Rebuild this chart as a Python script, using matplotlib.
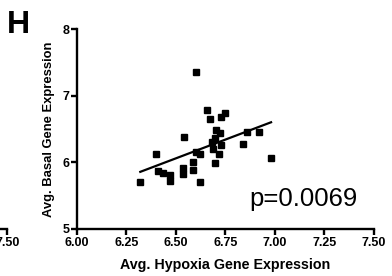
import numpy as np
import matplotlib
matplotlib.use('Agg')
import matplotlib.pyplot as plt

plt.rcParams['font.family'] = ['Liberation Sans', 'DejaVu Sans']

# avg. hypoxia vs avg. basal gene expression
hypoxia = [6.600, 6.659, 6.671, 6.750, 6.730, 6.540, 6.701, 6.722, 6.860, 6.920,
           6.400, 6.600, 6.620, 6.680, 6.696, 6.730, 6.688, 6.718, 6.700, 6.839,
           6.981, 6.320, 6.410, 6.435, 6.469, 6.469, 6.537, 6.537, 6.588, 6.588,
           6.621]
basal = [7.355, 6.785, 6.655, 6.745, 6.676, 6.376, 6.485, 6.440, 6.460, 6.450,
         6.120, 6.160, 6.120, 6.310, 6.360, 6.260, 6.195, 6.120, 5.995, 6.270,
         6.060, 5.700, 5.870, 5.840, 5.810, 5.720, 5.915, 5.830, 6.005, 5.885,
         5.700]
p_text = 'p=0.0069'
xticks = [6.00, 6.25, 6.50, 6.75, 7.00, 7.25, 7.50]
yticks = [5, 6, 7, 8]

fig = plt.figure(figsize=(3.92, 2.76), dpi=100)

def style(ax):
    for s in ['top', 'right']:
        ax.spines[s].set_visible(False)
    for s in ['left', 'bottom']:
        ax.spines[s].set_linewidth(1.7)
    ax.tick_params(width=1.7, length=4, labelsize=9, pad=1.5)
    for lab in ax.get_xticklabels() + ax.get_yticklabels():
        lab.set_fontweight('bold')

# tail of the neighbouring panel on the left
ax0 = fig.add_axes([0.019 - 0.757, 0.1703, 0.757, 0.7246])
ax0.set_xlim(6, 7.5)
ax0.set_xticks(xticks)
ax0.set_xticklabels(['%.2f' % t for t in xticks])
ax0.set_yticks([])
ax0.spines['left'].set_visible(False)
style(ax0)

ax = fig.add_axes([0.1964, 0.1703, 0.757, 0.7246])
ax.plot(hypoxia, basal, 'ks', ms=4.6, mec='k')
k, b = np.polyfit(hypoxia, basal, 1)
xf = np.array([min(hypoxia), max(hypoxia)])
ax.plot(xf, k * xf + b, 'k-', lw=1.6)
ax.set_xlim(6, 7.5)
ax.set_ylim(5, 8)
ax.set_xticks(xticks)
ax.set_xticklabels(['%.2f' % t for t in xticks])
ax.set_yticks(yticks)
style(ax)
ax.set_xlabel('Avg. Hypoxia Gene Expression', fontsize=10.3, fontweight='bold', labelpad=7)
ax.set_ylabel('Avg. Basal Gene Expression', fontsize=9.4, fontweight='bold', labelpad=5.5)
ax.text(7.418, 5.34, p_text, fontsize=18.5, ha='right', va='baseline')

fig.text(0.018, 0.88, 'H', fontsize=23, fontweight='bold')

fig.savefig('out.png', dpi=100)
